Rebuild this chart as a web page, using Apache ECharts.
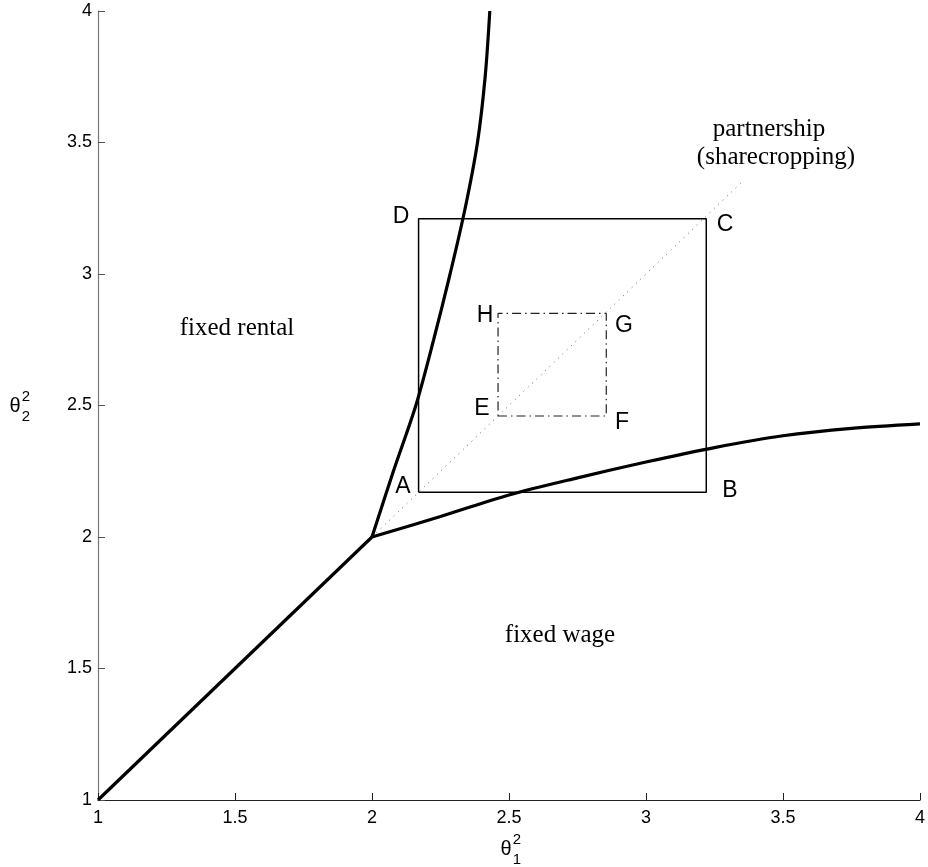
<!DOCTYPE html>
<html>
<head>
<meta charset="utf-8">
<script src="https://cdn.jsdelivr.net/npm/echarts@6/dist/echarts.min.js"></script>
<style>
html,body{margin:0;padding:0;background:#fff;overflow:hidden;}
#chart{width:928px;height:867px;}
</style>
</head>
<body>
<div id="chart"></div>
<script>
// ---- data ----
const xTicks = [1, 1.5, 2, 2.5, 3, 3.5, 4];
const yTicks = [1, 1.5, 2, 2.5, 3, 3.5, 4];
const kinkLine = [[1, 1], [2, 2]];
const upperBoundary = [[2, 2], [2.078, 2.25], [2.16, 2.5], [2.225, 2.75], [2.285, 3.0], [2.34, 3.25], [2.385, 3.5], [2.413, 3.75], [2.43, 4.0]];
const lowerBoundary = [[2, 2], [2.25, 2.078], [2.5, 2.16], [2.75, 2.225], [3.0, 2.285], [3.25, 2.34], [3.5, 2.385], [3.75, 2.413], [4.0, 2.43]];
const outerSquare = [[2.17, 2.17], [3.22, 2.17], [3.22, 3.21], [2.17, 3.21], [2.17, 2.17]];
const innerSquare = [[2.46, 2.46], [2.855, 2.46], [2.855, 2.85], [2.46, 2.85], [2.46, 2.46]];
const partnershipLine = [[2, 2], [3.35, 3.35]];
const cornerLabels = ['A', 'B', 'C', 'D', 'E', 'F', 'G', 'H'];
const regionLabels = ['fixed rental', 'fixed wage', 'partnership', '(sharecropping)'];

const chart = echarts.init(document.getElementById('chart'), null, {renderer: 'canvas', width: 928, height: 867});
const sans = '"Liberation Sans", Arial, sans-serif';
const serif = '"Liberation Serif", "Times New Roman", serif';

function lineSeries(data, style, extra) {
  return Object.assign({
    type: 'line', data: data, symbol: 'none', silent: true,
    lineStyle: style, animation: false, z: 3
  }, extra || {});
}

// label pixel positions (annotations)
const cornerPos = {
  A: [403, 487], B: [730, 491], C: [725, 225], D: [401, 217],
  E: [482, 409], F: [622, 423], G: [624, 326], H: [485, 316]
};
const regionPos = [[237, 328], [560, 635], [769, 129], [776, 157]];

const graphics = [];
cornerLabels.forEach(function (l) {
  graphics.push({
    type: 'text', x: cornerPos[l][0], y: cornerPos[l][1],
    style: {text: l, font: '23px ' + sans, fill: '#000', textAlign: 'center', textVerticalAlign: 'middle'}
  });
});
regionLabels.forEach(function (t, i) {
  graphics.push({
    type: 'text', x: regionPos[i][0], y: regionPos[i][1],
    style: {text: t, font: '25px ' + serif, fill: '#000', textAlign: 'center', textVerticalAlign: 'middle'}
  });
});
// axis titles: theta with superscript 2 and subscript index
function thetaTitle(cx, cy, sub) {
  graphics.push({type: 'text', x: cx, y: cy,
    style: {text: 'θ', font: '20px ' + sans, fill: '#000', textAlign: 'center', textVerticalAlign: 'middle'}});
  graphics.push({type: 'text', x: cx + 11, y: cy - 9,
    style: {text: '2', font: '15px ' + sans, fill: '#000', textAlign: 'center', textVerticalAlign: 'middle'}});
  graphics.push({type: 'text', x: cx + 11, y: cy + 11,
    style: {text: sub, font: '15px ' + sans, fill: '#000', textAlign: 'center', textVerticalAlign: 'middle'}});
}
thetaTitle(506, 849, '1');
thetaTitle(15, 406, '2');

const option = {
  backgroundColor: '#fff',
  animation: false,
  grid: {left: 98, right: 4, top: 11, bottom: 67, containLabel: false},
  xAxis: {
    type: 'value', min: 1, max: 4, interval: 0.5,
    axisLine: {show: true, lineStyle: {color: '#222', width: 1.2}},
    axisTick: {show: true, inside: true, length: 7, lineStyle: {color: '#222'}},
    axisLabel: {color: '#000', fontSize: 18, fontFamily: sans, margin: 9,
      formatter: function (v) { return String(+v.toFixed(1)); }},
    splitLine: {show: false}
  },
  yAxis: {
    type: 'value', min: 1, max: 4, interval: 0.5,
    axisLine: {show: true, lineStyle: {color: '#777', width: 1.2}},
    axisTick: {show: true, inside: true, length: 7, lineStyle: {color: '#555'}},
    axisLabel: {color: '#000', fontSize: 18, fontFamily: sans, margin: 6,
      formatter: function (v) { return String(+v.toFixed(1)); }},
    splitLine: {show: false}
  },
  series: [
    lineSeries(partnershipLine, {color: '#666', width: 1, type: [1, 5]}, {z: 2}),
    lineSeries(outerSquare, {color: '#000', width: 1.5}),
    lineSeries(innerSquare, {color: '#222', width: 1.2, type: [9, 4, 1.5, 4]}),
    lineSeries(kinkLine, {color: '#000', width: 3.2}, {z: 4}),
    lineSeries(upperBoundary, {color: '#000', width: 3.2}, {z: 4, smooth: 0.3}),
    lineSeries(lowerBoundary, {color: '#000', width: 3.2}, {z: 4, smooth: 0.3})
  ],
  graphic: graphics
};
chart.setOption(option);
</script>
</body>
</html>
